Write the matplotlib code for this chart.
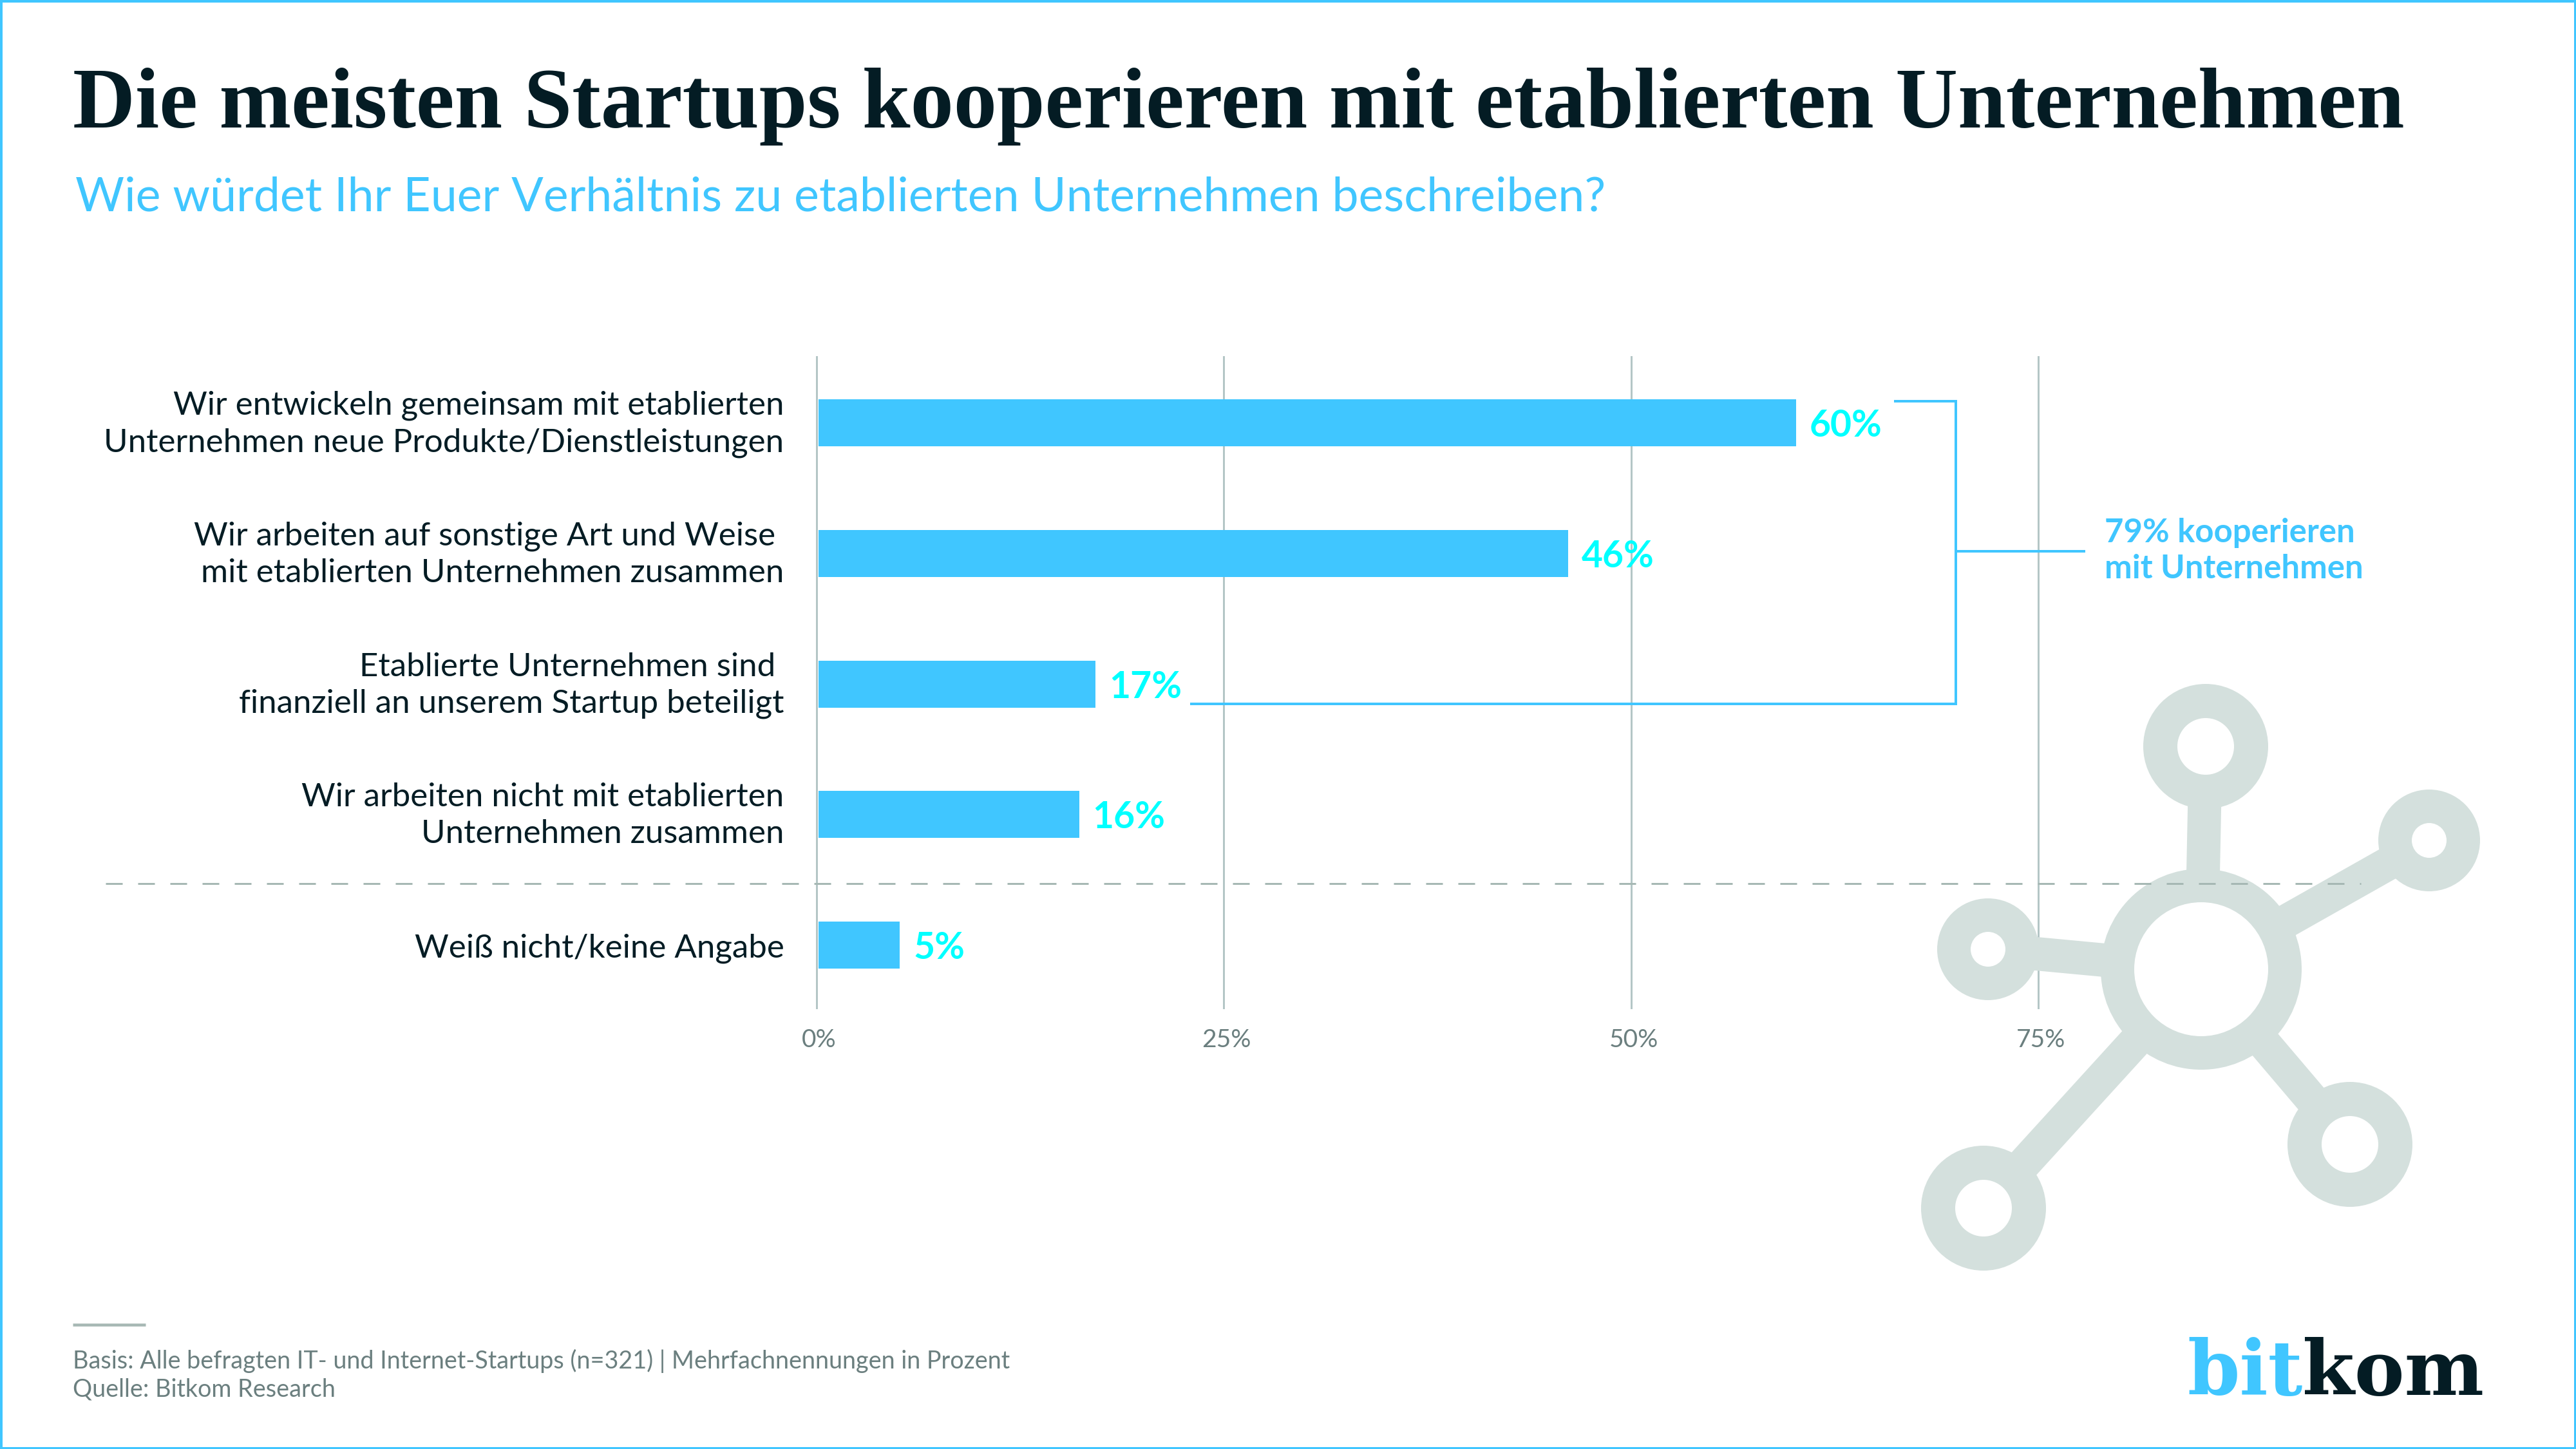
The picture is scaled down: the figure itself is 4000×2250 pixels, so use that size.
import matplotlib
matplotlib.use("Agg")
import matplotlib.pyplot as plt
from matplotlib.patches import Circle, Rectangle
from matplotlib.transforms import ScaledTranslation

# ---- data ----
categories = [
    "Wir entwickeln gemeinsam mit etablierten\nUnternehmen neue Produkte/Dienstleistungen",
    "Wir arbeiten auf sonstige Art und Weise \nmit etablierten Unternehmen zusammen",
    "Etablierte Unternehmen sind \nfinanziell an unserem Startup beteiligt",
    "Wir arbeiten nicht mit etablierten\nUnternehmen zusammen",
    "Weiß nicht/keine Angabe",
]
values = [60, 46, 17, 16, 5]
x_ticks = [0, 25, 50, 75]
x_tick_labels = ["0%", "25%", "50%", "75%"]
title = "Die meisten Startups kooperieren mit etablierten Unternehmen"
subtitle = "Wie würdet Ihr Euer Verhältnis zu etablierten Unternehmen beschreiben?"
callout = "79% kooperieren\nmit Unternehmen"
footer = "Basis: Alle befragten IT- und Internet-Startups (n=321) | Mehrfachnennungen in Prozent\nQuelle: Bitkom Research"

# ---- style ----
BLUE = "#40C6FF"
CYAN = "#00FFFF"
DARK = "#041C24"
GREY = "#6B7F7F"
GRID = "#B4C6C6"
ICON = "#D4E0DD"
RULE = "#A6B8B4"
W, H = 4000, 2250
PX = 72 / 100  # points per pixel at dpi 100
SANS = "Lato"
SLAB = "Liberation Serif"

fig = plt.figure(figsize=(W / 100, H / 100), dpi=100, facecolor="white")

# ---- chart axes ----
px_per_unit = (3165 - 1267.7) / 75
ax_left, ax_right = 1267.7 - px_per_unit, 3165 + px_per_unit
ax = fig.add_axes([ax_left / W, 1 - 1567 / H, (ax_right - ax_left) / W, (1567 - 553) / H], zorder=1)
ax.patch.set_visible(False)
ax.set_xlim(-1, 76)
ax.set_ylim(4.49, -0.51)
for s in ax.spines.values():
    s.set_visible(False)

rows = range(len(categories))
# bars start just right of the zero line, leaving a thin white gap
ax.barh(rows, values, left=0.13, height=73 / 202.75, color=BLUE, zorder=2)
ax.set_axisbelow(True)
ax.set_xticks(x_ticks, x_tick_labels)
ax.grid(axis="x", color=GRID, lw=3 * PX)
ax.set_yticks(list(rows), categories)
ax.tick_params(axis="both", length=0)
ax.tick_params(axis="x", pad=30 * PX, labelsize=28, labelcolor=GREY)
ax.tick_params(axis="y", pad=25 * PX, labelsize=36.7, labelcolor=DARK)
lift = ScaledTranslation(0, 8 / 100, fig.dpi_scale_trans)
for lab in ax.get_yticklabels():
    lab.set_fontfamily(SANS)
    lab.set_linespacing(1.3)
    lab.set_multialignment("right")
    if "\n" in lab.get_text():
        lab.set_transform(lab.get_transform() + lift)
shift = ScaledTranslation(4 / 100, 0, fig.dpi_scale_trans)
for lab in ax.get_xticklabels():
    lab.set_fontfamily(SANS)
    lab.set_transform(lab.get_transform() + shift)

for r, v in zip(rows, values):
    ax.annotate(f"{v}%", (v, r), xytext=(24 * PX, -5 * PX), textcoords="offset points",
                va="center", ha="left", color=CYAN, fontsize=41, fontweight="bold", fontfamily=SANS)

# ---- overlay in pixel coordinates ----
ov = fig.add_axes([0, 0, 1, 1], zorder=2)
ov.set_xlim(0, W)
ov.set_ylim(H, 0)
ov.axis("off")

# frame
ov.add_patch(Rectangle((1.5, 1.5), W - 3, H - 3, fill=False, ec=BLUE, lw=4 * PX))

# titles
ov.text(113, 198, title, fontsize=96.6, fontweight="bold", fontfamily=SLAB, color=DARK, va="baseline")
ov.text(117, 328, subtitle, fontsize=52.9, fontfamily=SANS, color=BLUE, va="baseline")

# network icon
hub = (3418, 1505)
nodes = [((3425, 1159), 97, 44), ((3772, 1305), 79, 27), ((3087, 1474), 79, 27),
         ((3080, 1876), 97, 44), ((3649, 1777), 97, 44)]
for c, ro, _ in nodes:
    ov.plot([hub[0], c[0]], [hub[1], c[1]], color=ICON, lw=52 * PX, solid_capstyle="butt", zorder=2)
    ov.add_patch(Circle(c, ro, fc=ICON, ec="none", zorder=2))
ov.add_patch(Circle(hub, 156, fc=ICON, ec="none", zorder=2))
for c, _, ri in nodes:
    ov.add_patch(Circle(c, ri, fc="white", ec="none", zorder=3))
ov.add_patch(Circle(hub, 104, fc="white", ec="none", zorder=3))

# dashed separator
ov.plot([164, 3666], [1372, 1372], color=RULE, lw=3 * PX, dashes=(26 / 3, 24 / 3), dash_capstyle="butt", zorder=4)

# bracket
ov.plot([2943, 3037, 3037, 1850], [623, 623, 1093, 1093], color=BLUE, lw=4 * PX,
        solid_joinstyle="miter", zorder=4)
ov.plot([3039, 3236], [856, 856], color=BLUE, lw=4 * PX, zorder=4)
ov.text(3268, 898, callout, fontsize=36.6, fontweight="bold", fontfamily=SANS, color=BLUE,
        va="baseline", linespacing=1.24, zorder=5)

# footer
ov.plot([113, 226], [2057, 2057], color=RULE, lw=4.5 * PX, solid_capstyle="butt")
ov.text(113, 2168, footer, fontsize=27.2, fontfamily=SANS, color=GREY, va="baseline", linespacing=1.25)

# logo
ov.text(3396, 2166, "bit", fontsize=84, fontweight="bold", fontfamily="DejaVu Serif", color=BLUE, va="baseline")
ov.text(3575, 2166, "kom", fontsize=84, fontweight="bold", fontfamily="DejaVu Serif", color=DARK, va="baseline")

fig.savefig("out.png", dpi=100, facecolor="white")
